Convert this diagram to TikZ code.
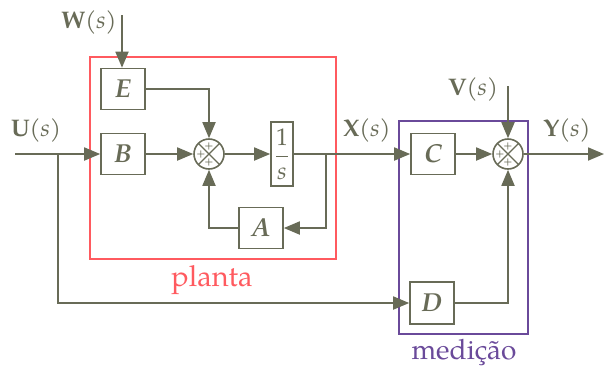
\documentclass[tikz,border=0pt]{standalone}
\usepackage{fontspec}
\setmainfont{TeX Gyre Pagella}
\usetikzlibrary{arrows.meta,calc}
\definecolor{wire}{HTML}{686B57}
\definecolor{plantred}{HTML}{FF5A5F}
\definecolor{measpurple}{HTML}{6A4A9A}
\tikzset{
  blockbox/.style={draw=wire, line width=1.6pt, fill=white, minimum width=44pt, minimum height=41pt, inner sep=0pt,
    font=\fontsize{26}{28}\selectfont\bfseries\itshape, text=wire},
  sumnode/.style={draw=wire, line width=1.6pt, fill=white, circle, minimum size=30pt, inner sep=0pt},
  sig/.style={draw=wire, line width=1.8pt},
  arr/.style={sig, -{Triangle[length=16pt,width=13pt]}},
  siglabel/.style={text=wire, font=\fontsize{24}{28}\selectfont},
  groupbox/.style={line width=1.4pt},
}
% summing junction: crossed circle with three plus signs
\newcommand{\sumcross}[1]{%
  \draw[wire, line width=1.3pt] (#1) ++(-10.6pt,-10.6pt) -- ++(21.2pt,21.2pt);
  \draw[wire, line width=1.3pt] (#1) ++(-10.6pt,10.6pt) -- ++(21.2pt,-21.2pt);
  \node[text=wire, font=\fontsize{12}{12}\selectfont, inner sep=0pt] at ($(#1)+(0,-8pt)$) {+};
  \node[text=wire, font=\fontsize{12}{12}\selectfont, inner sep=0pt] at ($(#1)+(0,8pt)$) {+};
  \node[text=wire, font=\fontsize{12}{12}\selectfont, inner sep=0pt] at ($(#1)+(-8pt,0)$) {+};
}
\begin{document}
\begin{tikzpicture}[x=1pt, y=-1pt]
\useasboundingbox (0,0) rectangle (604,368);

% grouping frames
\draw[plantred, groupbox] (90,57) rectangle (336,259);
\node[text=plantred, font=\fontsize{29}{32}\selectfont] (plantlbl) at (212,280) {planta};
\draw[measpurple, groupbox] (399,121) rectangle (528,334);
\node[text=measpurple, font=\fontsize{28}{32}\selectfont] (measlbl) at (464,352) {medição};

% blocks
\node[blockbox] (E) at (123,89) {E};
\node[blockbox] (B) at (123,154) {B};
\node[sumnode] (S1) at (209,154) {};
\sumcross{S1}
\node[blockbox, minimum width=22pt, minimum height=64pt, font=\fontsize{24}{28}\selectfont] (I) at (282,154)
  {$\displaystyle\frac{\hbox{1}}{\hbox{\itshape s}}$};
\node[blockbox] (A) at (261,228) {A};
\node[blockbox] (C) at (433,154) {C};
\node[sumnode] (S2) at (508,154) {};
\sumcross{S2}
\node[blockbox, minimum height=42pt] (D) at (432,303) {D};

% signal labels
\node[siglabel] (Wl) at (89,22) {\textbf{W}(\textit{s})};
\node[siglabel] (Ul) at (36,130) {\textbf{U}(\textit{s})};
\node[siglabel] (Xl) at (367,130) {\textbf{X}(\textit{s})};
\node[siglabel] (Vl) at (473,89) {\textbf{V}(\textit{s})};
\node[siglabel] (Yl) at (567,130) {\textbf{Y}(\textit{s})};

% free ends and branch points
\coordinate (Win) at (122,15);
\coordinate (Uin) at (15,154);
\coordinate (Ubr) at (58,154);
\coordinate (Vin) at (508,86);
\coordinate (Yout) at (604,154);
\coordinate (Xbr) at (326,154);

% connectors
\draw[arr] (Win) -- (E.north -| Win);
\draw[arr] (Uin) -- (B.west);
\draw[arr] (E.east) -| (S1.north);
\draw[arr] (B.east) -- (S1.west);
\draw[arr] (S1.east) -- (I.west);
\draw[arr] (Xbr) |- (A.east);
\draw[arr] (A.west) -| (S1.south);
\draw[arr] (I.east) -- (C.west);
\draw[arr] (C.east) -- (S2.west);
\draw[arr] (Vin) -- (S2.north);
\draw[arr] (S2.east) -- (Yout);
\draw[arr] (Ubr) |- (D.west);
\draw[arr] (D.east) -| (S2.south);
\end{tikzpicture}
\end{document}
